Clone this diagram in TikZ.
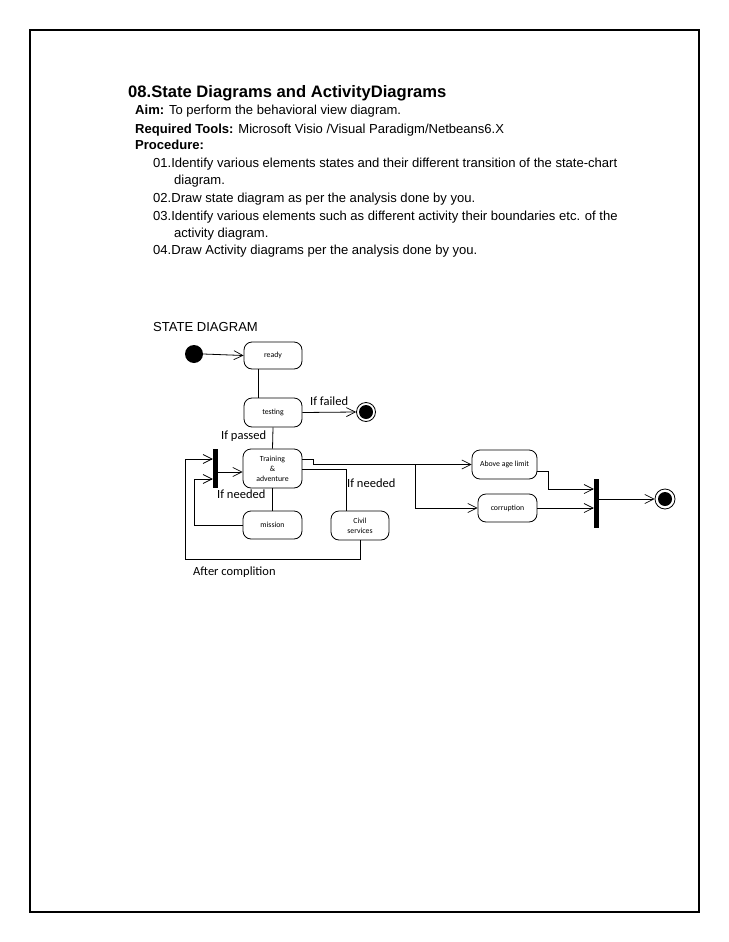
\documentclass[tikz,border=0pt]{standalone}
\usepackage{fontspec}
\setmainfont{Liberation Sans}
\newfontfamily\calfont{Carlito}
\usetikzlibrary{arrows.meta}
\begin{document}
\begin{tikzpicture}[x=1pt,y=-1pt,
  statebox/.style={draw, rounded corners=8pt, line width=0.8pt, align=center, inner sep=0pt,
     font=\calfont\fontsize{7.8}{10}\selectfont},
  bar/.style={fill=black, draw=none, inner sep=0pt, minimum width=5pt},
  initnode/.style={circle, fill=black, inner sep=0pt, minimum size=18pt},
  finalnode/.style={circle, draw, line width=0.8pt, inner sep=0pt, minimum size=19pt,
     path picture={\fill (path picture bounding box.center) circle (7pt);}},
  conn/.style={line width=0.8pt},
  arr/.style={line width=0.8pt, -{Straight Barb[length=9pt,width=9pt,line width=0.7pt]}},
  lbl/.style={font=\calfont\fontsize{12.5}{14}\selectfont, anchor=base west, inner sep=0pt},
  body/.style={font=\fontsize{13.05}{15}\selectfont, anchor=base west, inner sep=0pt}]
\useasboundingbox (0,0) rectangle (728,942);
\draw[line width=2.5pt] (30,30) rectangle (699,912);

% heading text
\node[anchor=base west, inner sep=0pt, font=\bfseries\fontsize{16.6}{19}\selectfont] (title) at (128,97) {08.State Diagrams and ActivityDiagrams};
\node[body] (aim) at (135,114) {\textbf{Aim:} To perform the behavioral view diagram.};
\node[body] (tools) at (135,133) {\textbf{Required Tools:} Microsoft Visio /Visual Paradigm/Netbeans6.X};
\node[body] (proc) at (135,149) {\textbf{Procedure:}};
\node[body] (p1) at (153,167) {01.Identify various elements states and their different transition of the state-chart};
\node[body] (p1b) at (174,184) {diagram.};
\node[body] (p2) at (153,202) {02.Draw state diagram as per the analysis done by you.};
\node[body] (p3) at (153,220) {03.Identify various elements such as different activity their boundaries etc. of the};
\node[body] (p3b) at (174,237) {activity diagram.};
\node[body] (p4) at (153,254) {04.Draw Activity diagrams per the analysis done by you.};
\node[body] (sd) at (153,331) {STATE DIAGRAM};

% states
\node[initnode] (init) at (194,354) {};
\node[statebox, minimum width=58pt, minimum height=27pt] (ready) at (273,355.5) {ready};
\node[statebox, minimum width=58pt, minimum height=29pt] (testing) at (273,412.5) {testing};
\node[finalnode] (f1) at (366,412) {};
\node[statebox, minimum width=59pt, minimum height=39pt] (training) at (272.5,468.5) {Training\\\&\\adventure};
\node[statebox, minimum width=59pt, minimum height=28pt] (mission) at (272.5,525) {mission};
\node[statebox, minimum width=58pt, minimum height=29pt] (civil) at (360,525.5) {Civil\\services};
\node[bar, minimum height=39pt] (bar1) at (215.5,468.5) {};
\node[statebox, minimum width=65pt, minimum height=29pt] (above) at (504.5,464.5) {Above age limit};
\node[statebox, minimum width=59pt, minimum height=28pt] (corr) at (507.5,508) {corruption};
\node[bar, minimum height=49pt] (bar2) at (596.5,503.5) {};
\node[finalnode, minimum size=20pt] (f2) at (665,499) {};

% connectors
\draw[arr] (init.east) -- (ready.west);
\draw[conn] ([xshift=-15pt]ready.south) -- ([xshift=-15pt]testing.north);
\draw[arr] (testing.east) -- (f1.west);
\draw[conn] (testing.south) -- (training.north);
\coordinate (bt) at (230,472);
\draw[arr] (bar1.east |- bt) -- (training.west |- bt);
\draw[conn] (training.south) -- (mission.north);
\coordinate (ml) at (194,479);
\draw[arr] (mission.west) -| (ml) -- (bar1.west |- ml);
\coordinate (ol) at (185,559);
\coordinate (ol2) at (185,459);
\draw[arr] (civil.south) |- (ol) -- (ol2) -- (bar1.west |- ol2);
\coordinate (tc) at (346,469);
\draw[conn] (training.east |- tc) -- (tc) -- (civil.north -| tc);
\coordinate (c1) at (313,459);
\draw[arr] (training.east |- c1) -- (c1) |- (above.west);
\coordinate (br) at (415,464.5);
\draw[arr] (br) |- (corr.west);
\coordinate (ab) at (548,471);
\coordinate (ab2) at (548,489);
\draw[arr] (above.east |- ab) -- (ab) -- (ab2) -- (bar2.west |- ab2);
\draw[arr] (corr.east) -- (bar2.west |- corr.east);
\draw[arr] (bar2.east |- f2) -- (f2.west);

% labels
\node[lbl] (lfail) at (310,405) {If failed};
\node[lbl] (lpass) at (221,439) {If passed};
\node[lbl] (lneed1) at (217,498) {If needed};
\node[lbl] (lneed2) at (347,487) {If needed};
\node[lbl] (lafter) at (193,575) {After complition};
\end{tikzpicture}
\end{document}
